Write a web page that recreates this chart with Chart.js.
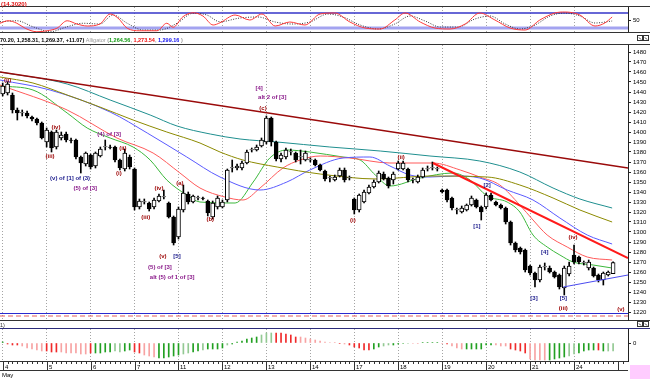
<!DOCTYPE html>
<html>
<head>
<meta charset="utf-8">
<script src="https://cdn.jsdelivr.net/npm/chart.js@4.4.1/dist/chart.umd.min.js"></script>
<style>
  body { margin: 0; background: #fff; }
  #wrap { position: relative; width: 650px; height: 379px; overflow: hidden; background: #fff; }
  canvas { position: absolute; left: 0; }
</style>
</head>
<body>
<div id="wrap">
  <canvas id="osc" width="650" height="32" style="top:0"></canvas>
  <canvas id="main" width="650" height="289" style="top:32px"></canvas>
  <canvas id="ao" width="650" height="58" style="top:321px"></canvas>
</div>
<script>
// x runs in bar numbers, 9 bars per session
const X_MIN = -0.55, X_MAX = 128.05
const BARS_PER_DAY = 9
const dayLabels = ['4', '5', '6', '7', '11', '12', '13', '14', '17', '18', '19', '20', '21', '24']
const monthLabel = 'May'
const dayStarts = dayLabels.map((_, d) => d * BARS_PER_DAY)

// header texts
const oscTitle = '(14.3020)'
const quote = '70.20, 1,258.31, 1,269.37, +11.07)'
const alligator = ['1,264.56', '1,273.54', '1,299.16']
const aoTitle = '1)'

// candles
const opens = [1438,1439,1437,1422,1419,1419,1415,1413,1409,1390,1400,1385,1394,1398,1392,1392,1375,1368,1377,1366,
  1376,1385,1385,1385,1372,1363,1375,1363,1325,1330,1329,1325,1331,1335,1329,1315,1295,1322,1338,1330,
  1334,1334,1331,1315,1325,1325,1332,1364,1364,1364,1369,1382,1382,1386,1390,1414,1390,1373,1375,1380,
  1379,1375,1372,1372,1372,1367,1361,1354,1352,1356,1362,1354,1333,1322,1330,1339,1345,1350,1358,1354,
  1352,1363,1363,1363,1352,1350,1355,1363,1364,1363,1342,1342,1334,1322,1320,1322,1327,1332,1325,1325,
  1337,1330,1327,1324,1310,1289,1284,1282,1266,1259,1252,1265,1264,1260,1257,1244,1258,1277,1275,1269,
  1264,1264,1257,1252,1257,1258.31]
const highs = [1449,1450,1439,1424,1422,1421,1416,1414,1410,1404,1401,1402,1400,1400,1394,1393,1376,1380,1378,1380,
  1385,1392,1387,1386,1373,1383,1377,1364,1333,1333,1330,1334,1338,1342,1330,1316,1325,1347,1340,1337,
  1336,1335,1332,1331,1336,1332,1363,1372,1368,1371,1382,1384,1387,1394,1416,1415,1391,1379,1384,1383,
  1380,1382,1381,1374,1373,1368,1362,1356,1357,1364,1364,1356,1334,1338,1342,1347,1352,1361,1360,1355,
  1360,1371,1371,1364,1354,1357,1364,1366,1370,1365,1343,1343,1335,1324,1326,1328,1336,1333,1326,1339,
  1339,1331,1328,1325,1311,1290,1285,1283,1267,1260,1267,1269,1266,1261,1258,1266,1270,1287,1276,1271,
  1272,1265,1258,1260,1261,1270.20]
const lows = [1436,1437,1419,1412,1416,1414,1411,1407,1393,1385,1380,1383,1392,1390,1389,1373,1359,1366,1363,1364,
  1375,1382,1383,1370,1362,1361,1363,1322,1323,1328,1321,1323,1330,1333,1314,1287,1293,1320,1328,1329,
  1332,1332,1316,1313,1323,1324,1330,1360,1362,1362,1368,1380,1381,1385,1388,1386,1371,1370,1373,1377,
  1370,1368,1371,1370,1366,1361,1351,1350,1351,1355,1350,1352,1318,1320,1329,1338,1344,1349,1352,1344,
  1348,1362,1362,1350,1349,1349,1354,1361,1362,1361,1339,1330,1322,1318,1319,1321,1326,1324,1312,1323,
  1331,1326,1323,1308,1287,1280,1278,1260,1257,1245,1250,1262,1259,1254,1243,1237,1256,1268,1268,1267,
  1262,1255,1250,1247,1256,1258.31]
const closes = [1446,1448,1422,1419,1419.5,1416,1413,1409,1394,1402,1384,1400,1397,1392,1391.5,1375,1369,1379,1365,1379,
  1383,1385.5,1384.5,1372,1364,1379,1365,1325,1331,1330.5,1323,1332,1336,1335.5,1315,1289,1323,1339,1330,1336,
  1334.5,1333.5,1319,1329,1334,1330,1362,1364.5,1366,1369,1380,1382.5,1385,1392,1414,1390,1373,1377,1382,1380.5,
  1372,1375.5,1379,1372.5,1367,1362,1353,1354.5,1355,1362,1352,1354.5,1322,1337,1340,1345,1350,1359,1353,1346,
  1358,1369,1369,1352,1352.5,1355,1362,1363.5,1364.5,1363.5,1340,1332,1324,1322.5,1324,1327,1334,1325,1320,1337,
  1332,1327,1324,1310,1289,1282,1280,1262,1259,1252,1265,1265.5,1260,1255,1245,1264,1266,1270,1270,1269.5,
  1270,1256,1252,1259,1260,1269.37]

// moving averages, [bar, price]
const maTeal = [[-0.55,1460],[13.2,1448],[22,1432],[30.2,1417],[35.7,1406],[42.5,1398],[48.6,1393],[56.2,1390],
  [67,1385],[77.3,1381],[87.5,1376],[97.7,1371],[105.9,1360],[112.7,1344],[118.2,1333],[124.8,1324]]
const maOlive = [[-0.55,1455],[6.2,1449],[13.2,1437],[19.9,1425],[26.7,1412],[33.6,1400],[40.4,1389],[44.5,1380],
  [49.2,1372],[56.2,1365],[65,1358],[76.7,1353],[87.5,1356],[99.2,1355],[105.9,1347],[112.7,1334],[118.2,1322],[124.8,1310]]
const jawBlue = [[-0.55,1452],[9.7,1442],[22,1420],[29.6,1399],[37.7,1375],[44.5,1355],[52.7,1342],[58.2,1350],
  [62.9,1362],[69.7,1374],[75.2,1375],[79.3,1366],[83.4,1357],[87.5,1355],[92.6,1356],[97.7,1354],[103.3,1342],
  [108.6,1332],[114.1,1314],[119.7,1297],[124.8,1288]]
const teethRed = [[-0.55,1447],[13.2,1422],[23.4,1394],[30.8,1379],[36.3,1359],[40.4,1344],[45.5,1335],[49.2,1332],
  [52.7,1344],[57.4,1364],[60.9,1372],[65,1376],[71.1,1374],[79.3,1369],[88.1,1369],[93.7,1362],[97.7,1355],
  [101.8,1347],[105.9,1327],[108.6,1312],[111.5,1297],[115.6,1285],[119.7,1275],[124.8,1272]]
const lipsGreen = [[-0.55,1446],[6.2,1442],[13.2,1419],[17.3,1404],[22,1394],[26.7,1385],[30.2,1372],[33.6,1352],
  [37.7,1337],[40.4,1330],[47.6,1329],[51.3,1350],[54.7,1374],[58.2,1382],[62.9,1380],[69.7,1375],[73.2,1372],
  [76.3,1357],[79.3,1346],[85.5,1354],[92.2,1359],[95.7,1352],[99.2,1336],[103.3,1330],[105.9,1320],[108.6,1297],
  [111.5,1285],[114.1,1277],[116.8,1270],[120.9,1267],[124.8,1264]]

// trend lines, [bar, price]
const resistLong = [[X_MIN, 1460], [X_MAX, 1364]]
const resistShort = [[88.1, 1369], [X_MAX, 1274]]
const supportLine = [[114.8, 1245], [X_MAX, 1257]]
const floorBlue = 1218.5
const floorRed = 1216

// oscillator, [bar, value]
const oscK = [[-0.55,39],[1.1,49],[2.9,39],[4.6,19],[7,5],[9.1,9],[11.1,19],[13.2,49],[15.2,36],[17.3,28],[19.9,36],
  [22,76],[23.6,60],[25.5,19],[28.1,9],[31.6,9],[33.6,39],[34.9,23],[36.9,65],[39,81],[41,68],[43.1,32],[44.5,41],
  [47.6,72],[50.6,52],[53.1,76],[55.8,28],[58.8,44],[61.9,32],[65,76],[68,80],[71.1,44],[74.2,20],[77.3,16],
  [80.3,52],[82.4,80],[85.5,44],[88.5,20],[91.6,16],[94.7,36],[97.7,80],[100.8,52],[103.9,20],[107,12],[110,52],
  [113.1,80],[115.1,84],[118.2,72],[121.3,28],[123.3,40],[124.8,64]]
const oscD = [[-0.55,45],[2.9,49],[6.2,25],[9.7,5],[13.2,25],[16.4,39],[19.9,36],[22.6,72],[25.5,39],[28.7,12],
  [32.2,12],[35.7,39],[39,79],[41.8,72],[44.5,45],[48.6,60],[52.3,64],[55.8,44],[59.2,36],[62.9,44],[66.6,76],
  [69.7,64],[73.2,32],[76.9,16],[80.3,36],[83.4,68],[86.5,48],[89.6,24],[93.2,24],[96.7,56],[99.8,68],[102.9,36],
  [105.9,16],[109,32],[112.1,68],[115.1,80],[118.2,68],[121.3,40],[124.8,48]]
const oscUpper = 80
const oscLower = 20

// awesome oscillator histogram, one value per bar
const aoValues = [1,-1,-2,-2,-3,-5,-6,-7,-8,-8,
  -9,-9,-9,-10,-10,-10,-11,-11,-10,-10,
  -10,-9,-9,-8,-9,-8,-7,-9,-10,-12,
  -13,-14,-15,-15,-14,-13,-12,-11,-10,-9,
  -8,-7,-6,-6,-6,-5,-2,-1,1,2,
  4,5,6,8,10,10,10,10,9,8,
  6,6,5,4,3,2,1,0.5,0.5,-0.5,
  -1,-2,-4,-5,-7,-7,-6,-4,-3,-2,
  -2,-1,-0.5,-0.5,-0.5,-0.5,0.5,0.5,0.5,0.5,
  -0.5,-1,-3,-5,-6,-6,-6,-6,-6,-2,
  -2,-2,-3,-3,-6,-7,-8,-10,-16,-17,
  -17,-17,-17,-16,-15,-14,-13,-11,-10,-8,
  -7,-7,-7,-8,-8,-8]

// elliott wave labels: text, bar, price, kind
const waveLabels = [
  ['(ii)', 1, 1452, 'minor'], ['(iii)', 9.7, 1376, 'minor'], ['(iv)', 10.9, 1405, 'minor'],
  ['(v) of [1] of (3)', 13.8, 1354, 'navy'], ['(5) of [3]', 16.9, 1344, 'alt'],
  ['(4) of [3]', 21.8, 1398, 'alt'], ['(i)', 23.8, 1359, 'minor'], ['(ii)', 24.6, 1384, 'minor'],
  ['(iii)', 29.3, 1315, 'minor'], ['(iv)', 32, 1344, 'minor'], ['(v)', 32.8, 1276, 'minor'],
  ['[5]', 35.7, 1276, 'navy'], ['(5) of [3]', 32.2, 1265, 'alt'], ['alt (5) of 1 of [3]', 34.7, 1255, 'alt'],
  ['(a)', 36.3, 1349, 'minor'], ['(b)', 42.5, 1313, 'minor'], ['(c)', 53.3, 1424, 'minor'],
  ['[4]', 52.5, 1444, 'alt'], ['alt 2 of [3]', 55.2, 1435, 'alt'],
  ['(i)', 71.7, 1312, 'minor'], ['(ii)', 81.6, 1375, 'minor'],
  ['[2]', 99.2, 1347, 'navy'], ['[1]', 97.1, 1306, 'navy'], ['[3]', 108.8, 1234, 'navy'],
  ['[4]', 111, 1280, 'navy'], ['[5]', 114.8, 1234, 'navy'], ['(iii)', 114.8, 1224, 'minor'],
  ['(iv)', 116.8, 1295, 'minor'], ['(v)', 126.6, 1223, 'minor']
]

// styles
const labelInk = { minor: '#9b0000', navy: '#1a1a8c', alt: '#8a1a8a' }
const aoShade = 'GRRRrrrrrRRRrrrrrrRGGGGggGGRRrrrGGGGGggGGgGGGGgGGGGGGgggRRRRRrrrrrrrrRrRRRRRGGggGGGgrrGGGGrRrrrGGGGGGrrrRRRRrrrrGGGGggGGGGRGgg'
const aoInk = { G: '#22a022', g: '#93c993', R: '#f02a2a', r: '#f7a3a3' }
const FONT = 'Liberation Sans'

const pts = arr => arr.map(([x, y]) => ({ x, y }))
const bars = opens.map((_, i) => i)

const base = {
  responsive: false,
  animation: false,
  events: [],
  plugins: { legend: { display: false }, tooltip: { enabled: false } }
}

const xDays = () => ({
  type: 'linear', min: X_MIN, max: X_MAX, offset: false,
  afterBuildTicks: s => { s.ticks = dayStarts.map(v => ({ value: v })) },
  afterFit: s => { s.paddingLeft = 0; s.paddingRight = 0 },
  ticks: { display: false },
  grid: { offset: false, drawTicks: false, color: '#a4a4a4' },
  border: { display: false, dash: [1, 2] }
})

const yRight = (min, max, more) => Object.assign({
  position: 'right', min, max,
  afterFit: s => { s.width = 22; s.paddingTop = 0; s.paddingBottom = 0 },
  grid: { drawOnChartArea: false, tickLength: 3, tickColor: '#222' },
  border: { display: true, color: '#222' },
  ticks: { color: '#000', padding: 2, font: { family: FONT, size: 6 }, callback: v => String(v) }
}, more)

const hline = (ctx, y, x0, x1, color) => {
  ctx.strokeStyle = color
  ctx.lineWidth = 1
  ctx.beginPath()
  ctx.moveTo(x0, y + 0.5)
  ctx.lineTo(x1, y + 0.5)
  ctx.stroke()
}

const buttons = (ctx, y) => {
  ctx.strokeStyle = '#333'
  ctx.lineWidth = 1
  ;[637, 643].forEach(x => {
    ctx.strokeRect(x + 0.5, y + 0.5, 5, 5)
    ctx.beginPath()
    ctx.moveTo(x + 2, y + 2.5); ctx.lineTo(x + 4, y + 4.5)
    ctx.stroke()
  })
}

const flatLine = (v, color, width, dash) => ({
  type: 'line', data: pts([[X_MIN, v], [X_MAX, v]]), borderColor: color, borderWidth: width,
  borderDash: dash || [], pointRadius: 0, order: 1
})

// ---------- oscillator panel ----------
new Chart(document.getElementById('osc'), {
  type: 'line',
  data: {
    datasets: [
      { data: pts(oscK), borderColor: '#ff3a3a', borderWidth: 1, pointRadius: 0, cubicInterpolationMode: 'monotone', order: 0 },
      { data: pts(oscD), borderColor: '#333', borderWidth: 1, borderDash: [1, 1.5], pointRadius: 0, cubicInterpolationMode: 'monotone', order: 0 },
      flatLine(oscUpper, '#3535c8', 1.5),
      flatLine(oscLower, '#a3a3f0', 3)
    ]
  },
  options: {
    ...base,
    layout: { padding: { top: 7, bottom: 0, left: 0, right: 0 } },
    scales: {
      x: xDays(),
      y: yRight(4, 104, { afterBuildTicks: s => { s.ticks = [{ value: 50 }] } })
    }
  },
  plugins: [{
    id: 'oscFrame',
    beforeDraw(chart) {
      const { ctx, width, chartArea: a } = chart
      ctx.save()
      hline(ctx, a.top - 1, 0, width, '#333')
      ctx.font = `bold 6px "${FONT}"`
      ctx.fillStyle = '#e01010'
      ctx.textBaseline = 'alphabetic'
      ctx.fillText(oscTitle, 1, 6)
      ctx.restore()
    }
  }]
})

// ---------- price panel ----------
new Chart(document.getElementById('main'), {
  type: 'bar',
  data: {
    datasets: [
      {
        label: 'wick', grouped: false, barThickness: 1, order: 5,
        data: bars.map(i => ({ x: i, y: [lows[i], highs[i]] })),
        backgroundColor: '#000', borderWidth: 0
      },
      {
        label: 'body', grouped: false, barThickness: 4, order: 4,
        data: bars.map(i => ({ x: i, y: [Math.min(opens[i], closes[i]), Math.max(opens[i], closes[i])] })),
        backgroundColor: c => closes[c.dataIndex] >= opens[c.dataIndex] ? '#fff' : '#000',
        borderColor: '#000', borderWidth: 1, borderSkipped: false
      },
      ...[[maTeal, '#1f8f8f'], [maOlive, '#8c8a00'], [jawBlue, '#5a5aff'], [teethRed, '#ff5a5a'], [lipsGreen, '#3cb83c']]
        .map(([d, c]) => ({ type: 'line', data: pts(d), borderColor: c, borderWidth: 1, pointRadius: 0, cubicInterpolationMode: 'monotone', order: 6 })),
      { type: 'line', data: pts(resistLong), borderColor: '#9a0a0a', borderWidth: 1.5, pointRadius: 0, order: 2 },
      { type: 'line', data: pts(resistShort), borderColor: '#ff1a1a', borderWidth: 2, pointRadius: 0, order: 2 },
      { type: 'line', data: pts(supportLine), borderColor: '#4b4bf0', borderWidth: 1, pointRadius: 0, order: 2 },
      flatLine(floorBlue, '#2a2ad0', 1.2),
      flatLine(floorRed, '#e06060', 1, [5, 3])
    ]
  },
  options: {
    ...base,
    layout: { padding: { top: 13, bottom: 1, left: 0, right: 0 } },
    scales: {
      x: xDays(),
      y: yRight(1212, 1487, { ticks: { color: '#000', padding: 2, stepSize: 10, includeBounds: false, font: { family: FONT, size: 6 }, callback: v => String(v) } })
    }
  },
  plugins: [{
    id: 'mainFrame',
    beforeDraw(chart) {
      const { ctx, width, chartArea: a } = chart
      ctx.save()
      hline(ctx, 0, 0, width, '#333')
      hline(ctx, a.top - 1, 0, width, '#333')
      hline(ctx, a.bottom, 0, width, '#333')
      ctx.textBaseline = 'alphabetic'
      let x = 0
      const put = (t, c, f) => {
        ctx.font = f || `bold 5.5px "${FONT}"`
        ctx.fillStyle = c
        ctx.fillText(t, x, 9.5)
        x += ctx.measureText(t).width
      }
      put(quote, '#000')
      put(' Alligator ', '#999', `5.5px "${FONT}"`)
      put('(', '#999')
      put(alligator[0], '#119911')
      put(', ', '#999')
      put(alligator[1], '#ee1111')
      put(', ', '#999')
      put(alligator[2], '#1111ee')
      put(' )', '#999')
      buttons(ctx, 3)
      ctx.restore()
    },
    afterDatasetsDraw(chart) {
      const { ctx, scales: { x, y } } = chart
      ctx.save()
      ctx.font = `bold 6px "${FONT}"`
      ctx.textAlign = 'center'
      ctx.textBaseline = 'middle'
      waveLabels.forEach(([t, b, p, kind]) => {
        ctx.fillStyle = labelInk[kind]
        ctx.fillText(t, x.getPixelForValue(b), y.getPixelForValue(p))
      })
      ctx.restore()
    }
  }]
})

// ---------- AO panel + date axis ----------
new Chart(document.getElementById('ao'), {
  type: 'bar',
  data: {
    datasets: [{
      grouped: false, barThickness: 1,
      data: bars.map(i => ({ x: i, y: aoValues[i] })),
      backgroundColor: c => aoInk[aoShade[c.dataIndex]]
    }]
  },
  options: {
    ...base,
    layout: { padding: { top: 8, bottom: 18, left: 0, right: 0 } },
    scales: {
      x: xDays(),
      y: yRight(-18, 14, { afterBuildTicks: s => { s.ticks = [{ value: 0 }] } })
    }
  },
  plugins: [{
    id: 'aoFrame',
    beforeDraw(chart) {
      const { ctx, width, chartArea: a } = chart
      ctx.save()
      hline(ctx, a.top - 1, 0, width, '#2b2b7a')
      ctx.font = `5.5px "${FONT}"`
      ctx.fillStyle = '#333'
      ctx.fillText(aoTitle, 0, 6)
      buttons(ctx, 0)
      ctx.restore()
    },
    afterDraw(chart) {
      const { ctx, chartArea: a, scales: { x } } = chart
      const y0 = a.bottom
      ctx.save()
      hline(ctx, y0, 0, a.right, '#333')
      hline(ctx, y0 + 9, 0, a.right, '#333')
      ctx.strokeStyle = '#333'
      ctx.beginPath()
      for (let i = 0; i <= 127; i++) {
        const px = Math.round(x.getPixelForValue(i)) + 0.5
        ctx.moveTo(px, y0)
        ctx.lineTo(px, y0 + (i % BARS_PER_DAY === 0 ? 9 : 3))
      }
      ctx.stroke()
      ctx.font = `6px "${FONT}"`
      ctx.fillStyle = '#000'
      ctx.textBaseline = 'alphabetic'
      dayLabels.forEach((t, d) => ctx.fillText(t, Math.round(x.getPixelForValue(dayStarts[d])) + 2, y0 + 7.5))
      ctx.fillText(monthLabel, 2, y0 + 15.5)
      ctx.fillStyle = '#ffccff'
      ctx.fillRect(a.right + 2, y0 + 4, chart.width - a.right - 2, chart.height - y0 - 4)
      ctx.restore()
    }
  }]
})
</script>
</body>
</html>
